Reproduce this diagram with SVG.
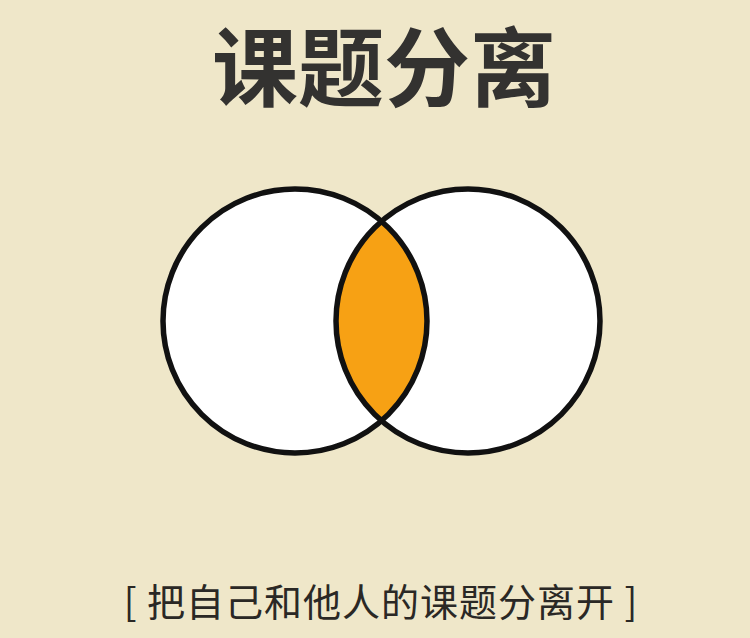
<svg xmlns="http://www.w3.org/2000/svg" width="750" height="638" viewBox="0 0 750 638">
  <style>
    .title { font-family: "Noto Sans CJK SC", "Noto Sans", sans-serif; font-weight: 700; font-size: 86px; fill: #333230; }
    .caption { font-family: "Noto Sans CJK SC", "Noto Sans", sans-serif; font-weight: 400; font-size: 38px; fill: #2a2825; letter-spacing: 1px; }
    .ring { fill: none; stroke: #111; stroke-width: 5.5; }
    .disc { fill: #ffffff; }
    .lens { fill: #f7a114; }
  </style>
  <rect width="750" height="638" fill="#efe7c9"/>
  <g id="title">
    <text class="title" x="384" y="100" text-anchor="middle">课题分离</text>
  </g>
  <g id="circle-self">
    <circle class="disc" cx="295" cy="321" r="132"/>
  </g>
  <g id="circle-others">
    <circle class="disc" cx="468" cy="321" r="132"/>
  </g>
  <g id="overlap">
    <path class="lens" d="M381.5 221.3 A132 132 0 0 1 381.5 420.7 A132 132 0 0 1 381.5 221.3 Z"/>
  </g>
  <g id="outlines">
    <circle class="ring" cx="295" cy="321" r="132"/>
    <circle class="ring" cx="468" cy="321" r="132"/>
  </g>
  <g id="caption">
    <text class="caption" x="381" y="616" text-anchor="middle">[ 把自己和他人的课题分离开 ]</text>
  </g>
</svg>
